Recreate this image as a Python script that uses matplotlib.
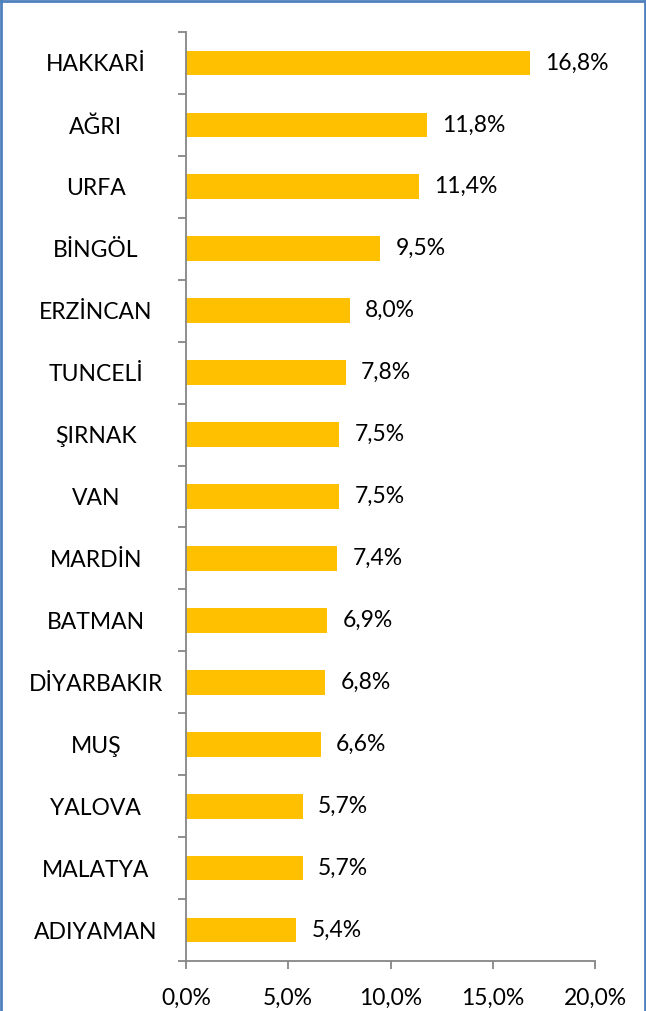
import matplotlib.pyplot as plt
from matplotlib.lines import Line2D
import numpy as np

provinces = ["HAKKARİ", "AĞRI", "URFA", "BİNGÖL", "ERZİNCAN", "TUNCELİ", "ŞIRNAK",
             "VAN", "MARDİN", "BATMAN", "DİYARBAKIR", "MUŞ", "YALOVA", "MALATYA",
             "ADIYAMAN"]
rates = [16.8, 11.8, 11.4, 9.5, 8.0, 7.8, 7.5, 7.5, 7.4, 6.9, 6.8, 6.6, 5.7, 5.7, 5.4]
xticks = [0, 5, 10, 15, 20]

plt.rcParams['font.family'] = ['Lato', 'DejaVu Sans']
fs = 16.5
axis_grey = '#868686'

fig = plt.figure(figsize=(6.46, 10.11), dpi=100)
ax = fig.add_axes([186/646, 1 - 961/1011, (595 - 186)/646, (961 - 32)/1011])

y = np.arange(len(provinces))
ax.barh(y, rates, height=0.4, color='#FFC000')
ax.set_ylim(len(provinces) - 0.5, -0.5)
ax.set_xlim(0, 20)

for yi, v in zip(y, rates):
    ax.annotate(f"{v:.1f}%".replace('.', ','), (v, yi), xytext=(11, 0),
                textcoords='offset points', va='center', ha='left', fontsize=fs)

ax.set_yticks(y)
ax.set_yticklabels(provinces, ha='center', fontsize=fs)
ax.tick_params(axis='y', which='major', length=0, pad=65)
ax.set_yticks(np.arange(-0.5, len(provinces)), minor=True)
ax.tick_params(axis='y', which='minor', length=6, width=1.3, color=axis_grey, direction='out')

ax.set_xticks(xticks)
ax.set_xticklabels([f"{t:.1f}%".replace('.', ',') for t in xticks], fontsize=fs)
ax.tick_params(axis='x', length=6, width=1.3, color=axis_grey, direction='out', pad=13)

for s in ['top', 'right']:
    ax.spines[s].set_visible(False)
for s in ['left', 'bottom']:
    ax.spines[s].set_color(axis_grey)
    ax.spines[s].set_linewidth(1.3)

# blue frame round the chart
frame = '#4F81BD'
for xs, ys in [([0.001, 0.001], [0, 1]), ([0.999, 0.999], [0, 1]), ([0, 1], [0.999, 0.999])]:
    fig.add_artist(Line2D(xs, ys, color=frame, lw=2, transform=fig.transFigure))

fig.savefig('out.png', dpi=100)
